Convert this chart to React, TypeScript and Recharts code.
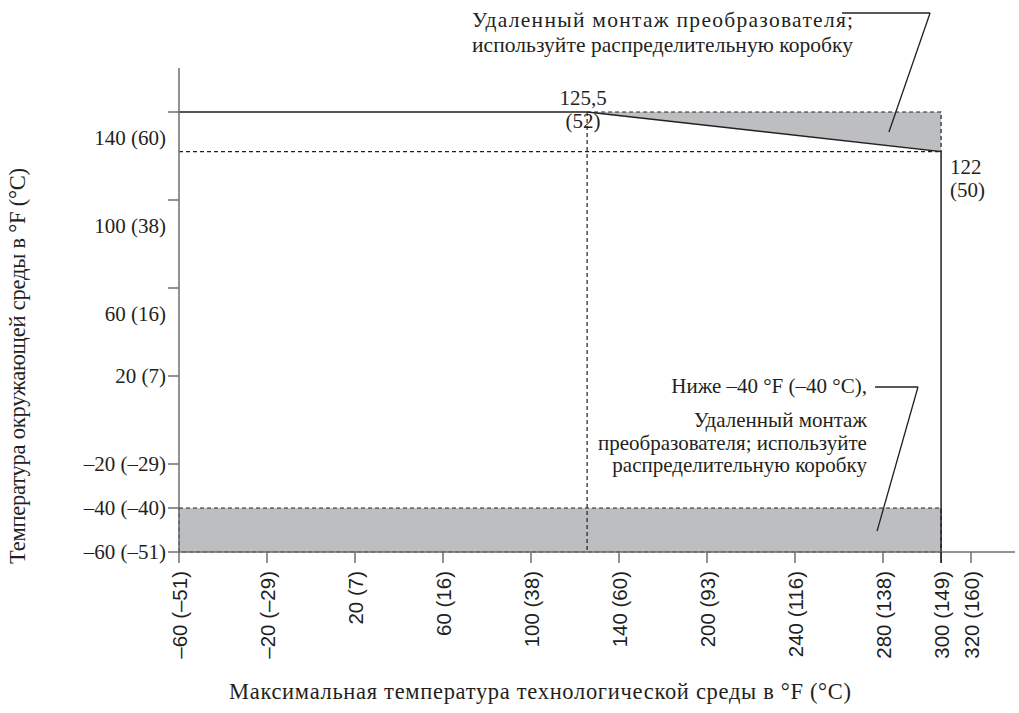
import React from 'react';
import {
  ComposedChart,
  XAxis,
  YAxis,
  Line,
  Area,
  ReferenceArea,
  ReferenceDot,
  ReferenceLine,
} from 'recharts';

// ---------- axis ticks ----------
const xTickValues = [-60, -20, 20, 60, 100, 140, 200, 240, 280, 300, 320];
const xTickLabels = [
  '–60 (–51)', '–20 (–29)', '20 (7)', '60 (16)', '100 (38)', '140 (60)',
  '200 (93)', '240 (116)', '280 (138)', '300 (149)', '320 (160)',
];
// the printed axis is uneven: where each tick value sits along the axis (axis units)
const xTickAxisPos = [-60, -20, 20, 60, 100, 140, 180, 220, 260, 286.4, 300];

const yTickValues = [-60, -40, -20, 20, 60, 100, 140];
const yTickLabels = ['–60 (–51)', '–40 (–40)', '–20 (–29)', '20 (7)', '60 (16)', '100 (38)', '140 (60)'];

// ---------- data (°F) ----------
// limit of ambient temperature vs. max process temperature
const limitProcess = [-60, 125.5, 300, 300];
const limitAmbient = [140, 140, 122, -60];

// upper shaded wedge (remote mount zone)
const wedgeProcess = [125.5, 300];
const wedgeLow = [140, 122];
const wedgeHigh = [140, 140];

// dashed outline of the wedge
const wedgeEdgeProcess = [125.5, 300, 300];
const wedgeEdgeAmbient = [140, 140, 122];

// dashed reference lines
const ambient122Process = [-60, 300];
const ambient122Ambient = [122, 122];
const knee125Process = [125.5, 125.5];
const knee125Ambient = [140, -60];

// lower shaded band (below –40 °F)
const lowBandProcess = [-60, 300];
const lowBandAmbient = [-60, -40];

// ---------- annotations ----------
const topNote = ['Удаленный монтаж преобразователя;', 'используйте распределительную коробку'];
const bottomNote = ['Ниже –40 °F (–40 °C),', 'Удаленный монтаж', 'преобразователя; используйте', 'распределительную коробку'];
const kneeLabel = ['125,5', '(52)'];
const endLabel = ['122', '(50)'];
const xTitle = 'Максимальная температура технологической среды в °F (°C)';
const yTitle = 'Температура окружающей среды в °F (°C)';

// leader lines, in axis units
const topLeaderX = [241.4, 281.4, 262.7];
const topLeaderY = [185, 185, 130.9];
const bottomLeaderX = [256.4, 275.9, 257.3];
const bottomLeaderY = [15, 15, -50.5];
// note anchors, in axis units
const topNoteAnchor = { x: 73.2, y: 178.6 };
const bottomNoteAnchor = { x: 252.7, y: 12.3 };

const AX = '#6d6e71';
const INK = '#231f20';
const FILL = '#bcbec0';
const SERIF = "'Liberation Serif', 'Times New Roman', serif";
const SANS = "'Liberation Sans', Arial, sans-serif";

function toAxis(v: number): number {
  const n = xTickValues.length;
  for (let i = 0; i < n - 1; i++) {
    const a = xTickValues[i];
    const b = xTickValues[i + 1];
    if (v <= b || i === n - 2) {
      const t = (v - a) / (b - a);
      return xTickAxisPos[i] + t * (xTickAxisPos[i + 1] - xTickAxisPos[i]);
    }
  }
  return v;
}

const limitData = limitProcess.map((p, i) => ({ px: toAxis(p), amb: limitAmbient[i] }));
const wedgeData = wedgeProcess.map((p, i) => ({ px: toAxis(p), band: [wedgeLow[i], wedgeHigh[i]] }));
const wedgeEdgeData = wedgeEdgeProcess.map((p, i) => ({ px: toAxis(p), amb: wedgeEdgeAmbient[i] }));
const amb122Data = ambient122Process.map((p, i) => ({ px: toAxis(p), amb: ambient122Ambient[i] }));
const kneeData = knee125Process.map((p, i) => ({ px: toAxis(p), amb: knee125Ambient[i] }));

function segments(xs: number[], ys: number[]) {
  const out: { x: number; y: number }[][] = [];
  for (let i = 0; i < xs.length - 1; i++) {
    out.push([
      { x: xs[i], y: ys[i] },
      { x: xs[i + 1], y: ys[i + 1] },
    ]);
  }
  return out;
}
const leaderSegments = [...segments(topLeaderX, topLeaderY), ...segments(bottomLeaderX, bottomLeaderY)];

function nearestIndex(arr: number[], v: number) {
  let best = 0;
  for (let i = 1; i < arr.length; i++) if (Math.abs(arr[i] - v) < Math.abs(arr[best] - v)) best = i;
  return best;
}

const XTick = (props: any) => {
  const { x, y, payload } = props;
  const i = nearestIndex(xTickAxisPos, payload.value);
  const ty = y + 6;
  const isLimit = xTickValues[i] === limitProcess[2];
  return (
    <g>
      {isLimit && <line x1={x} x2={x} y1={y - 13} y2={y - 2} stroke={INK} strokeWidth={1.5} />}
      <text
        x={x}
        y={ty}
        transform={`rotate(-90 ${x} ${ty})`}
        textAnchor="end"
        dominantBaseline="central"
        fontFamily={SANS}
        fontSize={20.5}
        fill={INK}
      >
        {xTickLabels[i]}
      </text>
    </g>
  );
};

const YTick = (props: any) => {
  const { x, y, payload } = props;
  const i = nearestIndex(yTickValues, payload.value);
  const shift = payload.value >= 60 ? 26 : 0;
  return (
    <text x={x} y={y + shift} textAnchor="end" dominantBaseline="central" fontFamily={SERIF} fontSize={21} fill={INK}>
      {yTickLabels[i]}
    </text>
  );
};

const noteContent = (
  lines: string[],
  anchor: 'start' | 'end',
  spacing: number[],
  size: number,
  lengths?: number[],
) => (p: any) => {
  const vb = p.viewBox || {};
  const x = vb.x ?? 0;
  const y = vb.y ?? 0;
  return (
    <g>
      {lines.map((l, i) => (
        <text
          key={i}
          x={x}
          y={y + spacing[i]}
          textAnchor={anchor}
          fontFamily={SERIF}
          fontSize={size}
          fill={INK}
          {...(lengths ? { textLength: lengths[i], lengthAdjust: 'spacing' } : {})}
        >
          {l}
        </text>
      ))}
    </g>
  );
};

const pointLabel = (lines: string[], dx: number, dys: number[], anchor: 'start' | 'middle') => (p: any) => {
  const vb = p.viewBox || {};
  const x = (vb.x ?? 0) + dx;
  const y = vb.y ?? 0;
  return (
    <g>
      {lines.map((l, i) => (
        <text key={i} x={x} y={y + dys[i]} textAnchor={anchor} fontFamily={SERIF} fontSize={21} fill={INK}>
          {l}
        </text>
      ))}
    </g>
  );
};

const XTitle = (p: any) => {
  const vb = p.viewBox || {};
  return (
    <text
      x={vb.x + vb.width / 2 - 57}
      y={699}
      textAnchor="middle"
      fontFamily={SERIF}
      fontSize={22.5}
      fill={INK}
      textLength={622}
      lengthAdjust="spacing"
    >
      {xTitle}
    </text>
  );
};

const YTitle = (p: any) => {
  const vb = p.viewBox || {};
  const cy = vb.y + vb.height / 2 + 56;
  return (
    <text
      x={25}
      y={cy}
      transform={`rotate(-90 25 ${cy})`}
      textAnchor="middle"
      fontFamily={SERIF}
      fontSize={22.5}
      fill={INK}
      textLength={396}
      lengthAdjust="spacing"
    >
      {yTitle}
    </text>
  );
};

export default function App() {
  return (
    <div style={{ position: 'absolute', left: 0, top: 0, background: '#fff' }}>
      <ComposedChart width={1019} height={713} margin={{ top: 68, right: 4, bottom: 61, left: 79 }}>
        <XAxis
          type="number"
          dataKey="px"
          domain={[-60, 320]}
          ticks={xTickAxisPos}
          interval={0}
          allowDataOverflow
          height={100}
          stroke={AX}
          strokeWidth={1.5}
          tickSize={11}
          tick={<XTick />}
          label={{ content: <XTitle /> }}
        />
        <YAxis
          type="number"
          domain={[-60, 160]}
          ticks={yTickValues}
          interval={0}
          allowDataOverflow
          width={100}
          stroke={AX}
          strokeWidth={1.5}
          tickSize={11}
          tick={<YTick />}
          label={{ content: <YTitle /> }}
        />
        <ReferenceArea
          x1={toAxis(lowBandProcess[0])}
          x2={toAxis(lowBandProcess[1])}
          y1={lowBandAmbient[0]}
          y2={lowBandAmbient[1]}
          fill={FILL}
          fillOpacity={1}
          stroke={INK}
          strokeWidth={1.2}
          strokeDasharray="4 3"
          ifOverflow="visible"
        />
        <Area
          data={wedgeData}
          dataKey="band"
          type="linear"
          fill={FILL}
          fillOpacity={1}
          stroke="none"
          isAnimationActive={false}
          dot={false}
          activeDot={false}
        />
        <Line data={amb122Data} dataKey="amb" type="linear" stroke={INK} strokeWidth={1.2} strokeDasharray="4 3" dot={false} activeDot={false} isAnimationActive={false} />
        <Line data={kneeData} dataKey="amb" type="linear" stroke={INK} strokeWidth={1.2} strokeDasharray="4 3" dot={false} activeDot={false} isAnimationActive={false} />
        <Line data={wedgeEdgeData} dataKey="amb" type="linear" stroke={INK} strokeWidth={1.2} strokeDasharray="4 3" dot={false} activeDot={false} isAnimationActive={false} />
        <Line data={limitData} dataKey="amb" type="linear" stroke={INK} strokeWidth={1.5} dot={false} activeDot={false} isAnimationActive={false} />
        {leaderSegments.map((seg, i) => (
          <ReferenceLine key={i} segment={seg} stroke={INK} strokeWidth={1.3} ifOverflow="visible" />
        ))}
        <ReferenceDot
          x={topNoteAnchor.x}
          y={topNoteAnchor.y}
          r={0}
          ifOverflow="visible"
          label={{ content: noteContent(topNote, 'start', [0, 25], 21.5, [381, 381]) }}
        />
        <ReferenceDot
          x={bottomNoteAnchor.x}
          y={bottomNoteAnchor.y}
          r={0}
          ifOverflow="visible"
          label={{ content: noteContent(bottomNote, 'end', [0, 34, 57, 79], 21) }}
        />
        <ReferenceDot
          x={toAxis(limitProcess[1])}
          y={limitAmbient[1]}
          r={0}
          ifOverflow="visible"
          label={{ content: pointLabel(kneeLabel, -4, [-7, 16], 'middle') }}
        />
        <ReferenceDot
          x={toAxis(limitProcess[2])}
          y={limitAmbient[2]}
          r={0}
          ifOverflow="visible"
          label={{ content: pointLabel(endLabel, 9, [22, 45], 'start') }}
        />
      </ComposedChart>
    </div>
  );
}
